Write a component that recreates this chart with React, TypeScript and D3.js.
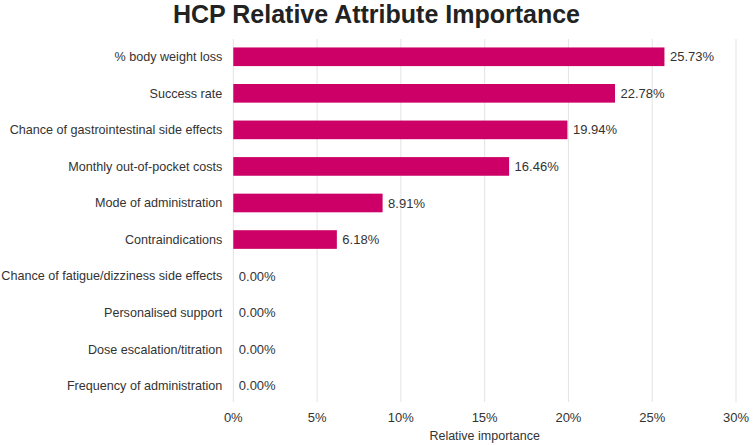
import React from "react";
import * as d3 from "d3";

const categories = [
  "% body weight loss",
  "Success rate",
  "Chance of gastrointestinal side effects",
  "Monthly out-of-pocket costs",
  "Mode of administration",
  "Contraindications",
  "Chance of fatigue/dizziness side effects",
  "Personalised support",
  "Dose escalation/titration",
  "Frequency of administration",
];
const values = [25.73, 22.78, 19.94, 16.46, 8.91, 6.18, 0, 0, 0, 0];
const xTicks = [0, 5, 10, 15, 20, 25, 30];
const title = "HCP Relative Attribute Importance";
const xTitle = "Relative importance";

const W = 753;
const H = 445;
const left = 233.3;
const right = 736;
const top = 38.5;
const bottom = 404;
const FONT = "Arial, 'Liberation Sans', Helvetica, sans-serif";
const BAR = "#cc0066";
const TEXT = "#333333";

export default function App() {
  const x = d3.scaleLinear().domain([0, 30]).range([left, right]);
  const y = d3.scaleBand<string>().domain(categories).range([top, bottom]).paddingInner(0.49).paddingOuter(0.245);

  return (
    <svg
      width={W}
      height={H}
      style={{ position: "absolute", left: 0, top: 0, background: "#fff" }}
      fontFamily={FONT}
    >
      <rect x={0} y={0} width={W} height={H} fill="#fff" />
      <text x={376.5} y={23} textAnchor="middle" fontSize={25} fontWeight="bold" fill="#222">
        {title}
      </text>
      {xTicks.map((t) => (
        <g key={t}>
          <line x1={x(t)} x2={x(t)} y1={39} y2={402} stroke="#e3e3e3" strokeWidth={1} />
          <text x={x(t)} y={417.5} dy="0.35em" textAnchor="middle" fontSize={13} fill={TEXT}>
            {t + "%"}
          </text>
        </g>
      ))}
      {categories.map((c, i) => {
        const yc = (y(c) as number) + y.bandwidth() / 2;
        return (
          <g key={c}>
            <text x={left - 11} y={yc} dy="0.35em" textAnchor="end" fontSize={12.6} fill={TEXT}>
              {c}
            </text>
            <rect x={x(0)} y={y(c)} width={x(values[i]) - x(0)} height={y.bandwidth()} fill={BAR} />
            <text x={x(values[i]) + 5.5} y={yc} dy="0.35em" fontSize={13} fill={TEXT}>
              {values[i].toFixed(2) + "%"}
            </text>
          </g>
        );
      })}
      <text x={(left + right) / 2} y={435.5} dy="0.35em" textAnchor="middle" fontSize={12.5} fill={TEXT}>
        {xTitle}
      </text>
    </svg>
  );
}
